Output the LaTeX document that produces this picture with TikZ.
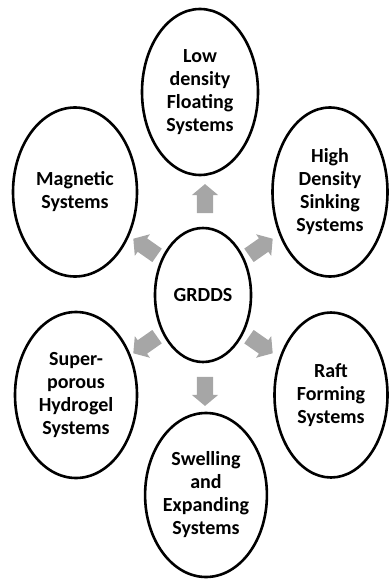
\documentclass[tikz,border=0pt]{standalone}
\usepackage{fontspec}
\setmainfont{Carlito}
\usetikzlibrary{shapes.geometric,shapes.arrows}

\begin{document}
\begin{tikzpicture}[
    x=1pt, y=-1pt,
    every node/.style={font=\fontsize{20}{23}\selectfont\bfseries, align=center},
    oval/.style={draw, ellipse, line width=2.6pt, inner sep=0pt},
    blockarrow/.style={single arrow, fill=black!35, draw=none, inner sep=8pt,
        minimum height=29pt, single arrow head extend=5pt,
        single arrow tip angle=100},
]
    \useasboundingbox (0, 0) rectangle (390, 580);

    \node[oval, minimum width=96pt, minimum height=134pt] (grdds) at (203, 295) {GRDDS};

    \node[oval, minimum width=116pt, minimum height=166pt] (low) at (200, 92) {Low\\density\\Floating\\Systems};
    \node[oval, minimum width=115pt, minimum height=169pt] (high) at (330, 192) {High\\Density\\Sinking\\Systems};
    \node[oval, minimum width=113pt, minimum height=165pt] (raft) at (331, 395) {Raft\\Forming\\Systems};
    \node[oval, minimum width=104pt, minimum height=164pt] (swell) at (206, 495) {Swelling\\and\\Expanding\\Systems};
    \node[oval, minimum width=122pt, minimum height=166pt] (super) at (76, 395) {Super-\\porous\\Hydrogel\\Systems};
    \node[oval, minimum width=124pt, minimum height=169pt] (mag) at (75, 192) {Magnetic\\Systems};

    % grey block arrows round the centre
    \node[blockarrow, rotate=90] (alow) at (205, 202) {};
    \node[blockarrow, rotate=35] (ahigh) at (258, 249) {};
    \node[blockarrow, rotate=-35] (araft) at (258, 343) {};
    \node[blockarrow, rotate=-90] (aswell) at (205, 388) {};
    \node[blockarrow, rotate=-145] (asuper) at (148, 343) {};
    \node[blockarrow, rotate=145] (amag) at (148, 249) {};

\end{tikzpicture}
\end{document}
